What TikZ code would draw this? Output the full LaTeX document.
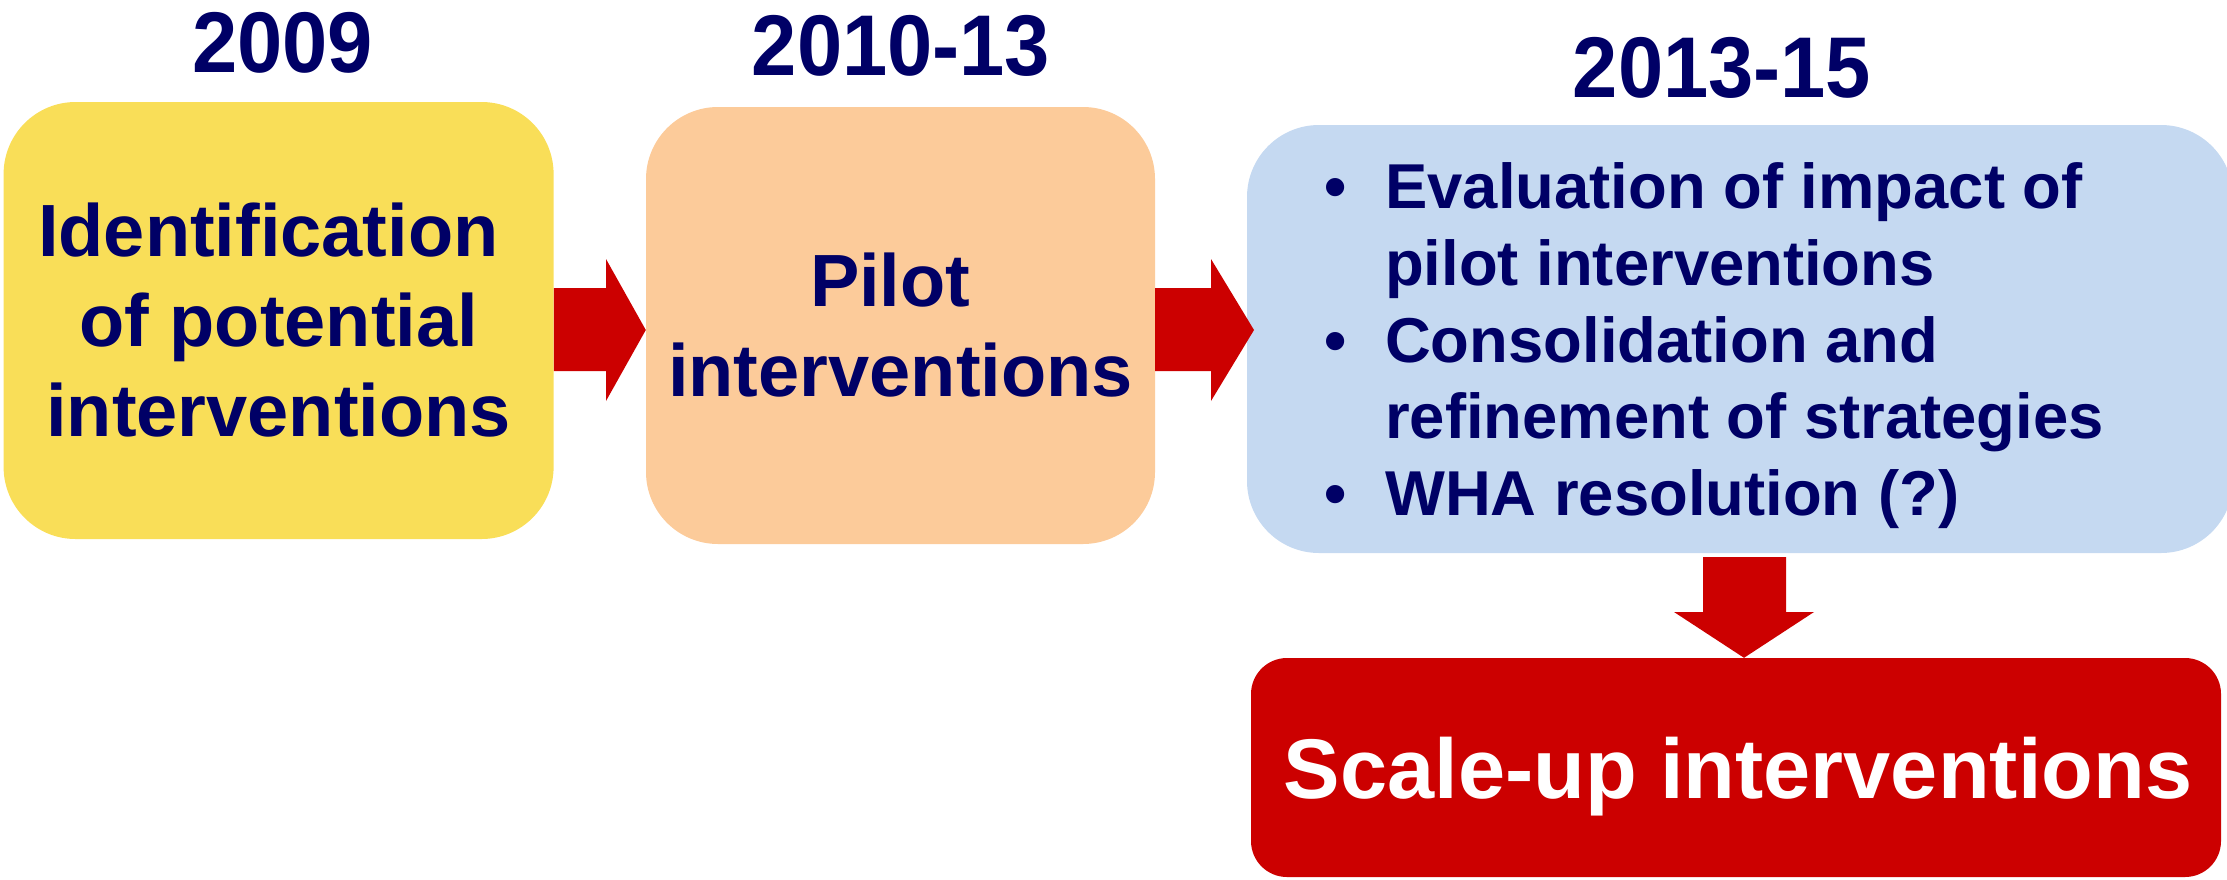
\documentclass[tikz,border=0pt]{standalone}
\usepackage{fontspec}
\usepackage{graphicx}
\setmainfont{Liberation Sans}
\definecolor{navy}{RGB}{0,0,102}
\definecolor{cyellow}{RGB}{249,222,88}
\definecolor{corange}{RGB}{252,203,154}
\definecolor{cblue}{RGB}{197,217,241}
\definecolor{cred}{RGB}{204,0,0}
\newcommand{\yearstretch}[1]{\scalebox{1}[1.06]{#1}}
\tikzset{
  box/.style={rectangle, rounded corners=72pt, inner sep=0pt, draw=none, align=center, text=navy},
  yeartxt/.style={inner sep=0pt, anchor=base, text=navy, font=\fontsize{81.3}{97}\selectfont\bfseries},
  boxtxt/.style={font=\fontsize{74}{90}\selectfont\bfseries},
  listtxt/.style={inner sep=0pt, anchor=base west, text=navy, font=\fontsize{63.4}{77}\selectfont\bfseries},
  bul/.style={inner sep=0pt, anchor=base, text=navy, font=\fontsize{63.4}{77}\selectfont\bfseries},
  blockarrow/.style={fill=cred, draw=none}
}
\begin{document}
\begin{tikzpicture}[x=1pt,y=-1pt]
\useasboundingbox (0,0) rectangle (2227,879);
% boxes
\node[box, boxtxt, fill=cyellow, minimum width=550, minimum height=437] (ybox) at (278.6,320.5)
  {Identification\hspace*{0.278em}\\of potential\hspace*{0.278em}\\interventions};
\node[box, boxtxt, fill=corange, minimum width=509, minimum height=437] (obox) at (900.5,325.5)
  {Pilot\hspace*{0.278em}\\interventions};
\node[box, fill=cblue, minimum width=986, minimum height=428] (bbox) at (1740,339) {};
\node[box, rounded corners=36pt, fill=cred, minimum width=970, minimum height=219] (rbox) at (1736,767.5) {};
\node[inner sep=0pt, anchor=base, text=white, font=\fontsize{84.7}{100}\selectfont\bfseries] (rtxt) at (1738,798) {Scale-up interventions};
% years
\node[yeartxt] (t1) at (282.5,72.7) {\yearstretch{2009}};
\node[yeartxt] (t2) at (901,75) {\yearstretch{2010-13}};
\node[yeartxt] (t3) at (1722,97) {\yearstretch{2013-15}};
% list
\node[bul] (b1) at (1336,208) {•};
\node[bul] (b2) at (1336,362) {•};
\node[bul] (b3) at (1336,515) {•};
\node[listtxt] (l1) at (1385,208) {Evaluation of impact of};
\node[listtxt] (l2) at (1385,285) {pilot interventions};
\node[listtxt] (l3) at (1385,362) {Consolidation and};
\node[listtxt] (l4) at (1385,438) {refinement of strategies};
\node[listtxt] (l5) at (1385,515) {WHA resolution (?)};
% arrows
\fill[blockarrow] (ybox.east |- 0,288) -- (606,288) -- (606,259) -- (obox.west |- 0,330) -- (606,401) -- (606,371) -- (ybox.east |- 0,371) -- cycle;
\fill[blockarrow] (obox.east |- 0,288) -- (1211,288) -- (1211,259) -- (1254,330) -- (1211,401) -- (1211,371) -- (obox.east |- 0,371) -- cycle;
\fill[blockarrow] (1703,557) -- (1786,557) -- (1786,612) -- (1814,612) -- (rbox.north -| 1744,0) -- (1674,612) -- (1703,612) -- cycle;
\end{tikzpicture}
\end{document}
